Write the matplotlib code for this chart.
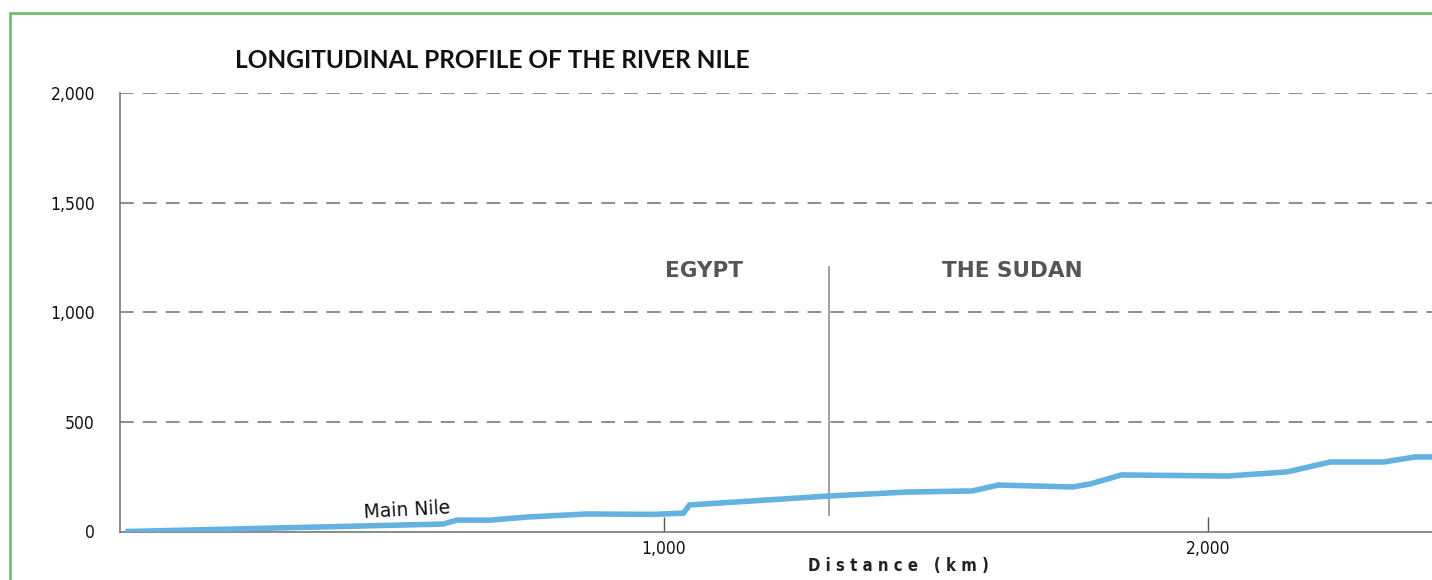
import matplotlib.pyplot as plt
from matplotlib.patches import Rectangle
from matplotlib.ticker import FuncFormatter

# distance from the mouth (km) and elevation (m)
distance_km = [15, 594, 620, 681, 749, 859, 980, 1036, 1047, 1304, 1447, 1567,
               1615, 1751, 1784, 1841, 2036, 2146, 2225, 2323, 2381, 2413]
elevation_m = [0, 34, 52, 52, 66, 80, 78, 84, 121, 162, 180, 185,
               212, 203, 217, 258, 253, 272, 317, 317, 340, 340]

y_ticks = [0, 500, 1000, 1500, 2000]
x_ticks = [1000, 2000]
border_km = 1304
countries = ['EGYPT', 'THE SUDAN']
country_km = [1073, 1641]

W, H = 1432, 580
fig = plt.figure(figsize=(W / 100, H / 100), dpi=100)

# green frame (figure is cropped on the right / bottom)
fig.patches.append(Rectangle((9.5 / W, -0.1), 1.2, (H - 12.5) / H + 0.1,
                             transform=fig.transFigure, fill=False,
                             edgecolor='#6cba62', linewidth=1.9))

ax = fig.add_axes([120 / W, (H - 531.5) / H, (W - 120) / W, (531.5 - 93) / H])
ax.set_xlim(0, 2412)
ax.set_ylim(0, 2000)

for y in y_ticks[1:]:
    ax.axhline(y, color='#6f6f6f', lw=1.1, dashes=(9, 6), zorder=1)

ax.plot(distance_km, elevation_m, color='#64b2e0', lw=4,
        solid_joinstyle='miter', zorder=3)

# country boundary
ax.plot([border_km, border_km], [75, 1205], color='#a0a0a0', lw=1.4, zorder=2)
for name, km in zip(countries, country_km):
    ax.text(km, 1190, name, ha='center', va='center', fontsize=15.5,
            fontweight='bold', color='#555555', family='DejaVu Sans')

ax.text(528, 96, 'Main Nile', ha='center', va='center', fontsize=13.5,
        rotation=3, family='DejaVu Sans', color='#111111')

for s in ['top', 'right']:
    ax.spines[s].set_visible(False)
for s in ['left', 'bottom']:
    ax.spines[s].set_color('#777777')
    ax.spines[s].set_linewidth(1.2)

fmt = FuncFormatter(lambda v, p: f'{int(v):,}')
ax.set_yticks(y_ticks)
ax.set_xticks(x_ticks)
ax.yaxis.set_major_formatter(fmt)
ax.xaxis.set_major_formatter(fmt)
ax.tick_params(axis='y', length=0, pad=18, labelsize=12.5)
ax.tick_params(axis='x', direction='in', length=11, width=1, color='#555555',
               pad=6, labelsize=12.5)
for lab in ax.get_xticklabels() + ax.get_yticklabels():
    lab.set_family('DejaVu Sans')
    lab.set_fontstretch('condensed')
    lab.set_color('#111111')

fig.text(235 / W, (H - 60) / H, 'LONGITUDINAL PROFILE OF THE RIVER NILE',
         ha='left', va='center', fontsize=17.6, fontweight='bold',
         family='Lato', color='#111111')
fig.text(898 / W, (H - 566) / H, ' '.join('Distance (km)'), ha='center',
         va='center', fontsize=12, fontweight='bold',
         family='DejaVu Sans', fontstretch='condensed', color='#222222')

plt.savefig('out.png', dpi=100)
